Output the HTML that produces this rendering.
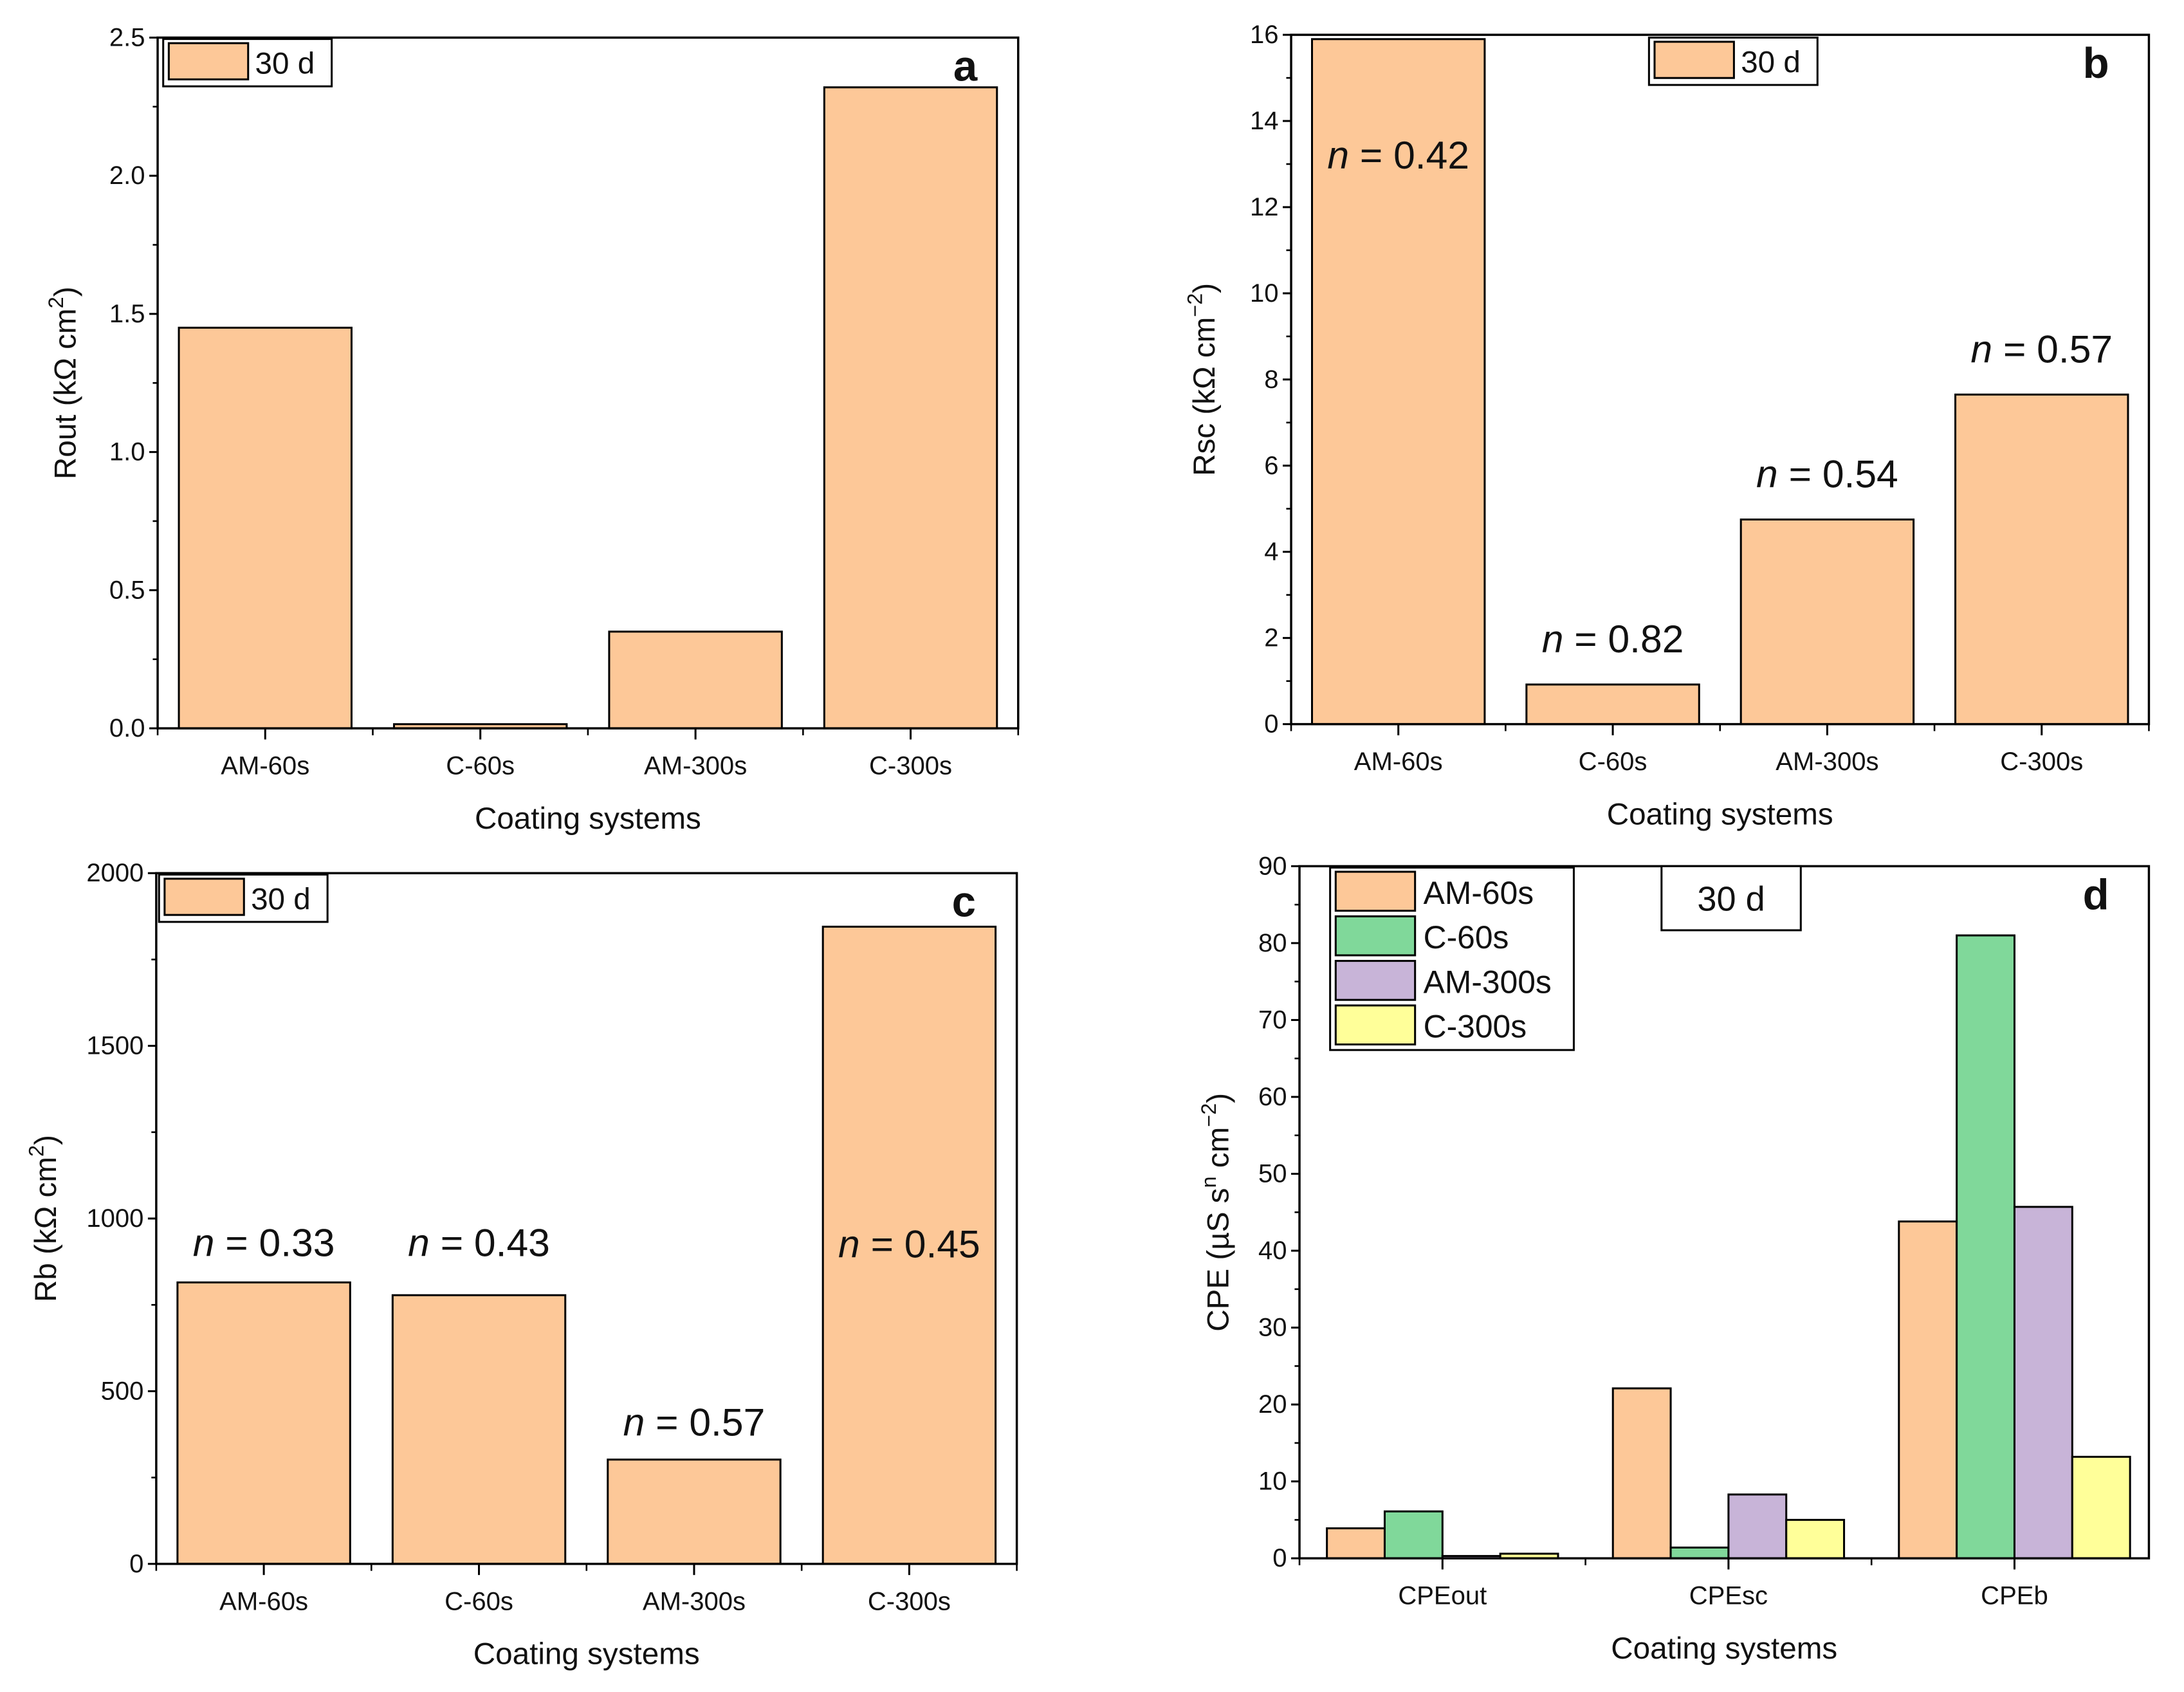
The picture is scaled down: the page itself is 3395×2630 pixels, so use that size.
<!DOCTYPE html>
<html><head><meta charset="utf-8">
<style>
html,body{margin:0;padding:0;background:#fff;}
svg{display:block;}
text{font-family:"Liberation Sans",Arial,sans-serif;fill:#111;}
</style></head>
<body>
<svg id="fig" xmlns="http://www.w3.org/2000/svg" width="3395" height="2630" viewBox="0 0 1568 1215"></svg>
<script>
const catsABC = ["AM-60s","C-60s","AM-300s","C-300s"];
const valsA = [1.45, 0.015, 0.35, 2.32];
const valsB = [15.9, 0.92, 4.75, 7.65];
const valsC = [815, 778, 302, 1845];
const nLabelsB = ["0.42","0.82","0.54","0.57"];
const nLabelsC = ["0.33","0.43","0.57","0.45"];
const ticksA = [0,0.5,1.0,1.5,2.0,2.5];
const ticksB = [0,2,4,6,8,10,12,14,16];
const ticksC = [0,500,1000,1500,2000];
const catsD = ["CPEout","CPEsc","CPEb"];
const seriesD = ["AM-60s","C-60s","AM-300s","C-300s"];
const dAM60 = [3.9, 22.1, 43.8];
const dC60 = [6.1, 1.4, 81];
const dAM300 = [0.3, 8.3, 45.7];
const dC300 = [0.6, 5.0, 13.2];
const ticksD = [0,10,20,30,40,50,60,70,80,90];

const NS="http://www.w3.org/2000/svg";
const svg=document.getElementById('fig');
function el(tag,attrs,parent,txt){const e=document.createElementNS(NS,tag);for(const k in attrs)e.setAttribute(k,attrs[k]);if(txt!==undefined)e.textContent=txt;(parent||svg).appendChild(e);return e;}
const ORANGE="#FDC898", COLORS=["#FDC898","#80D89A","#C8B4D8","#FFFF99"];

function fmt(v,dec){return dec?v.toFixed(1):String(v);}

function panel(o){
  const g=el('g',{});
  
  
  const L=o.x0,R=o.x1,T=o.y0,B=o.y1;
  const ys=v=>B-(v-o.ymin)/(o.ymax-o.ymin)*(B-T);
  const n=o.cats.length;
  const xmin=o.xmin!==undefined?o.xmin:0.5, xmax=o.xmax!==undefined?o.xmax:n+0.5;
  const xs=i=>L+((i+1)-xmin)/(xmax-xmin)*(R-L);
  o.xs=xs;
  o.drawBars(g,ys,xs);
  const f=el('rect',{x:L,y:T,width:R-L,height:B-T,fill:'none',stroke:'#000','stroke-width':1.6},g);
  
  for(let i=0;i<o.yticks.length;i++){
    const v=o.yticks[i],y=ys(v);
    el('line',{x1:L-6,y1:y,x2:L,y2:y,stroke:'#000','stroke-width':1.4},g);
    const t=el('text',{x:L-9,y:y+6,'text-anchor':'end','font-size':18.5},g,fmt(v,o.dec));
    
    if(i<o.yticks.length-1){const m=ys((v+o.yticks[i+1])/2);el('line',{x1:L-3.5,y1:m,x2:L,y2:m,stroke:'#000','stroke-width':1.2},g);}
  }
  for(let i=0;i<n;i++){
    const cx=xs(i);
    el('line',{x1:cx,y1:B,x2:cx,y2:B+8,stroke:'#000','stroke-width':1.4},g);
    const t=el('text',{x:cx,y:B+33,'text-anchor':'middle','font-size':18.5},g,o.cats[i]);
    
  }
  for(let i=0;i<=n;i++){const x=i<n?xs(i)-(xs(1)-xs(0))/2:xs(n-1)+(xs(1)-xs(0))/2;if(x>=L-1&&x<=R+1)el('line',{x1:x,y1:B,x2:x,y2:B+5,stroke:'#000','stroke-width':1.2},g);}
  const xt=el('text',{x:(L+R)/2,y:B+72,'text-anchor':'middle','font-size':22},g,'Coating systems');
  
  const yt=el('text',{x:0,y:0,'text-anchor':'middle','font-size':22,transform:`translate(${o.ytx},${(T+B)/2}) rotate(-90)`},g);
  
  o.ytitle(yt);
  const lab=el('text',{x:R-38,y:T+31,'text-anchor':'middle','font-size':31,'font-weight':'bold'},g,o.id);
  
  return {g};
}
function ts(parent,txt,attrs){const s=document.createElementNS(NS,'tspan');s.textContent=txt;for(const k in (attrs||{}))s.setAttribute(k,attrs[k]);parent.appendChild(s);return s;}

function simpleLegend(g,x,y){
  const lg=el('g',{},g);
  
  el('rect',{x:x,y:y,width:121,height:34,fill:'#fff',stroke:'#000','stroke-width':1.4},lg);
  el('rect',{x:x+4,y:y+3,width:57,height:26,fill:ORANGE,stroke:'#000','stroke-width':1.4},lg);
  el('text',{x:x+66,y:y+25,'font-size':22},lg,'30 d');
}
function singleBars(vals,nlabels,nys){
  return function(g,ys,xs){
    const bw=124;
    for(let i=0;i<vals.length;i++){
      const cx=xs(i),y=ys(vals[i]);
      const r=el('rect',{x:cx-bw/2,y:y,width:bw,height:this.y1-y,fill:ORANGE,stroke:'#000','stroke-width':1.4},g);
      
      
      if(nlabels){
        const ty=nys[i]==null?y-23:nys[i];
        const t=el('text',{x:cx,y:ty,'text-anchor':'middle','font-size':28},g);
        
        ts(t,'n',{'font-style':'italic'});ts(t,' = '+nlabels[i]);
      }
    }
  };
}

let oa={id:'a',x0:113,x1:731,y0:27,y1:523,ymin:0,ymax:2.5,yticks:ticksA,dec:true,cats:catsABC,ytx:54,
  ytitle:t=>{ts(t,'Rout (kΩ cm');ts(t,'2',{dy:-9,'font-size':15});ts(t,')',{dy:9});}};
oa.drawBars=singleBars(valsA,null,null);
let pa=panel(oa);simpleLegend(pa.g,117,28);

let ob={id:'b',x0:927,x1:1543,y0:25,y1:520,ymin:0,ymax:16,yticks:ticksB,dec:false,cats:catsABC,ytx:872,
  ytitle:t=>{ts(t,'Rsc (kΩ cm');ts(t,'−2',{dy:-9,'font-size':15});ts(t,')',{dy:9});}};
ob.drawBars=singleBars(valsB,nLabelsB,[121,null,null,null]);
let pb=panel(ob);simpleLegend(pb.g,1184,27);

let oc={id:'c',x0:112,x1:730,y0:627,y1:1123,ymin:0,ymax:2000,yticks:ticksC,dec:false,cats:catsABC,ytx:40,
  ytitle:t=>{ts(t,'Rb (kΩ cm');ts(t,'2',{dy:-9,'font-size':15});ts(t,')',{dy:9});}};
oc.drawBars=singleBars(valsC,nLabelsC,[902,902,1031,903]);
let pc=panel(oc);simpleLegend(pc.g,114,628);

const seriesVals=[dAM60,dC60,dAM300,dC300];
let od={id:'d',x0:933,x1:1543,y0:622,y1:1119,ymin:0,ymax:90,yticks:ticksD,dec:false,cats:catsD,ytx:882,xmin:0.5,xmax:3.47,
  ytitle:t=>{ts(t,'CPE (µS s');ts(t,'n',{dy:-9,'font-size':15});ts(t,' cm',{dy:9});ts(t,'−2',{dy:-9,'font-size':15});ts(t,')',{dy:9});}};
od.drawBars=function(g,ys,xs){
  const bw=41.5;
  for(let i=0;i<catsD.length;i++){
    const cx=xs(i);
    for(let s=0;s<seriesVals.length;s++){
      const x=cx-2*bw+s*bw,y=ys(seriesVals[s][i]);
      const r=el('rect',{x:x,y:y,width:bw,height:this.y1-y,fill:COLORS[s],stroke:'#000','stroke-width':1.4},g);
      
      
    }
  }
};
let pd=panel(od);
const lgd=el('g',{},pd.g);

el('rect',{x:955,y:623,width:175,height:131,fill:'#fff',stroke:'#000','stroke-width':1.4},lgd);
for(let s=0;s<seriesD.length;s++){
  const y=626+s*32;
  el('rect',{x:959,y:y,width:57,height:28,fill:COLORS[s],stroke:'#000','stroke-width':1.4},lgd);
  const t=el('text',{x:1022,y:y+23,'font-size':23},lgd,seriesD[s]);
  
}
const box=el('g',{},pd.g);

el('rect',{x:1193,y:622,width:100,height:46,fill:'#fff',stroke:'#000','stroke-width':1.4},box);
el('text',{x:1243,y:654,'text-anchor':'middle','font-size':25},box,'30 d');
</script>
</body></html>
